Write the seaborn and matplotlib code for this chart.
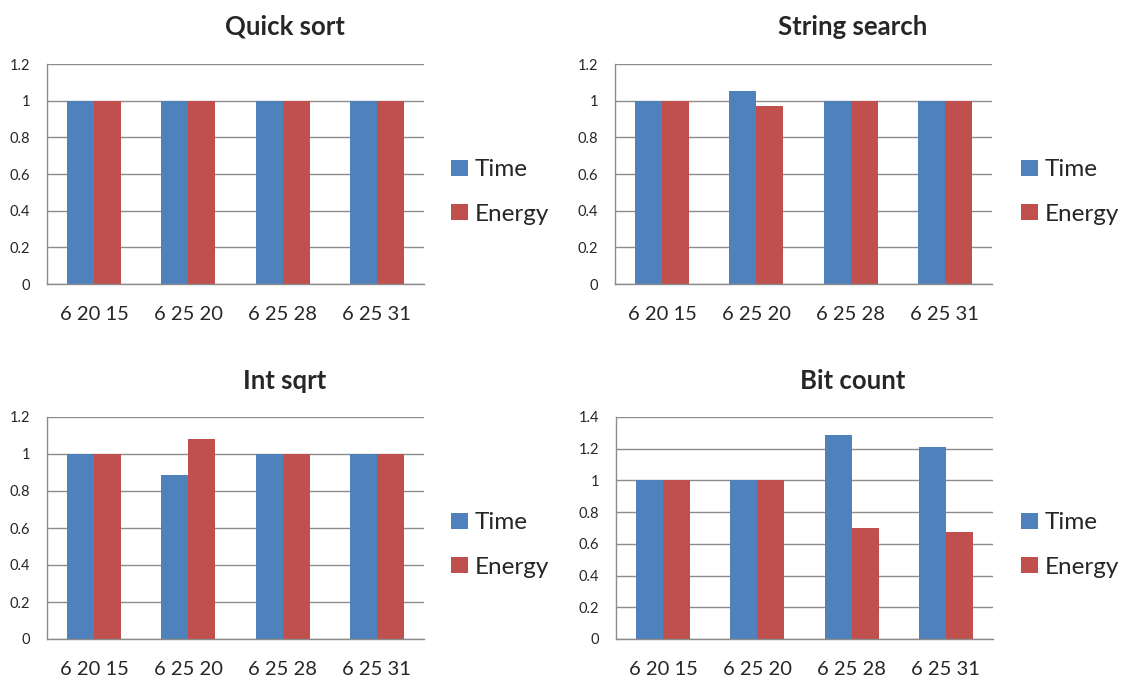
import matplotlib
matplotlib.use("Agg")
import matplotlib.pyplot as plt
import seaborn as sns
import pandas as pd
from matplotlib.patches import Patch

categories = ["6 20 15", "6 25 20", "6 25 28", "6 25 31"]
series = ["Time", "Energy"]

quick_time = [1.0, 1.0, 1.0, 1.0]
quick_energy = [1.0, 1.0, 1.0, 1.0]
string_time = [1.0, 1.054, 1.0, 1.0]
string_energy = [1.0, 0.971, 1.0, 1.0]
sqrt_time = [1.0, 0.885, 1.0, 1.0]
sqrt_energy = [1.0, 1.083, 1.0, 1.0]
bit_time = [1.0, 1.0, 1.285, 1.21]
bit_energy = [1.0, 1.0, 0.70, 0.675]

titles = ["Quick sort", "String search", "Int sqrt", "Bit count"]
ymaxes = [1.2, 1.2, 1.2, 1.4]
panel_data = [(quick_time, quick_energy), (string_time, string_energy),
              (sqrt_time, sqrt_energy), (bit_time, bit_energy)]

sns.set_theme(style="white")
plt.rcParams['font.family'] = ['Lato', 'DejaVu Sans']

colors = ["#4F81BD", "#C0504D"]
W, H = 1132, 682
fig = plt.figure(figsize=(W / 100, H / 100), dpi=100)

# axes rectangles in pixels: (left, top, right, bottom)
rects = [(47, 64, 424, 284), (615, 64, 992, 284),
         (47, 417, 424, 639), (616, 417, 993, 639)]
title_x = [285, 853, 285, 853]
title_y = [27, 27, 381, 381]
legend_x = [451, 1021, 451, 1021]
legend_y = [192, 192, 545, 545]

fs_leg = 17.5
px = fs_leg * 100 / 72.0

for i, (l, t, r, b) in enumerate(rects):
    ax = fig.add_axes([l / W, 1 - b / H, (r - l) / W, (b - t) / H])
    tv, ev = panel_data[i]
    df = pd.DataFrame({
        "cat": categories * 2,
        "series": [series[0]] * 4 + [series[1]] * 4,
        "val": list(tv) + list(ev),
    })
    sns.barplot(data=df, x="cat", y="val", hue="series", palette=colors,
                width=0.575, ax=ax, legend=False, saturation=1, edgecolor="none")
    ymax = ymaxes[i]
    ticks = [round(0.2 * k, 1) for k in range(int(round(ymax / 0.2)) + 1)]
    ax.set_ylim(0, ymax)
    ax.set_yticks(ticks)
    ax.set_yticklabels(["0" if v == 0 else ("1" if v == 1 else f"{v:g}") for v in ticks],
                       fontsize=10.5)
    ax.set_xlim(-0.5, 3.5)
    ax.set_xlabel("")
    ax.set_ylabel("")
    ax.tick_params(axis="x", labelsize=14.5, pad=16, length=0)
    ax.tick_params(axis="y", pad=12, length=0)
    ax.yaxis.grid(True, color="#8c8c8c", linewidth=1)
    ax.set_axisbelow(True)
    for s in ["top", "right"]:
        ax.spines[s].set_visible(False)
    for s in ["left", "bottom"]:
        ax.spines[s].set_color("#8c8c8c")
        ax.spines[s].set_linewidth(1)
    fig.text(title_x[i] / W, 1 - title_y[i] / H, titles[i], ha="center", va="center",
             fontsize=18.5, fontweight="bold")
    handles = [Patch(facecolor=c, edgecolor="none") for c in colors]
    fig.legend(handles, series, loc="center left",
               bbox_to_anchor=(legend_x[i] / W, 1 - legend_y[i] / H),
               frameon=False, fontsize=fs_leg, handlelength=17 / px,
               handleheight=15 / px, handletextpad=7 / px, labelspacing=0.95,
               borderpad=0, borderaxespad=0)

fig.savefig("out.png", dpi=100)
